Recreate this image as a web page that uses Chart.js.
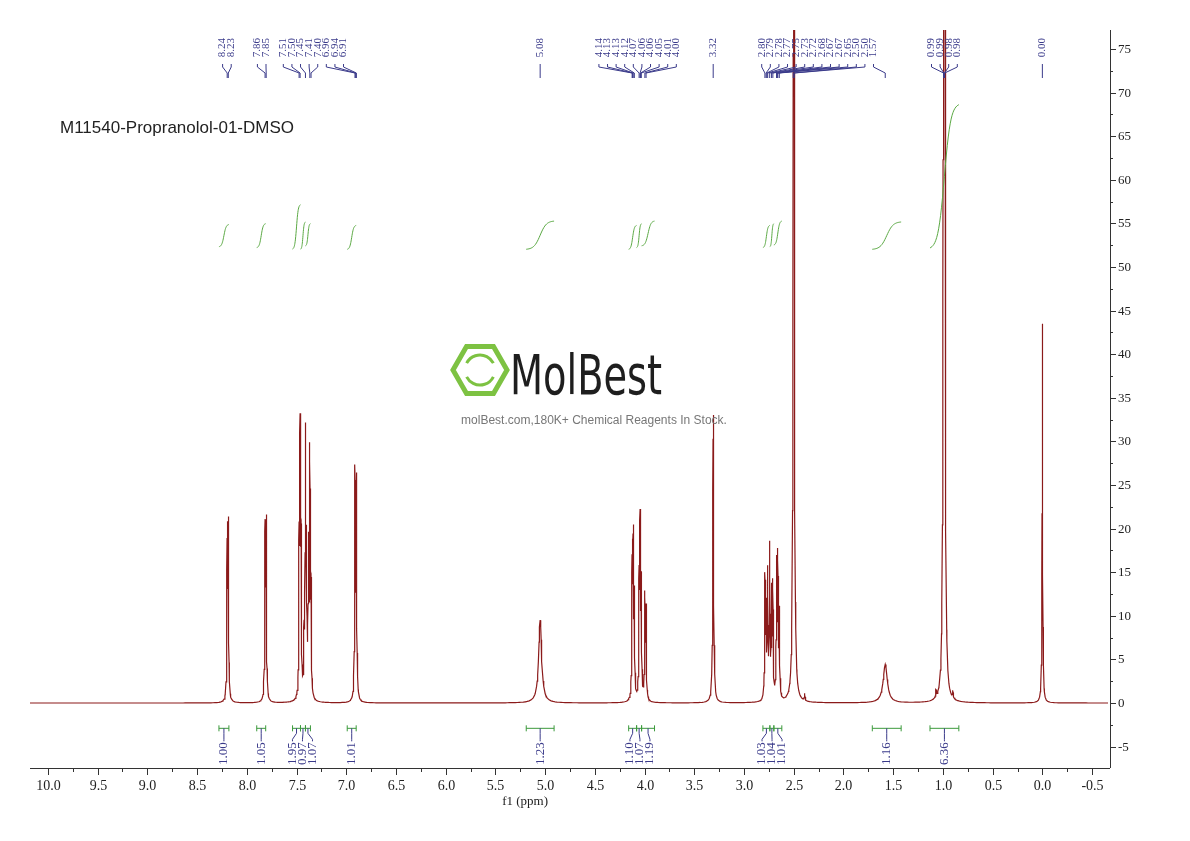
<!DOCTYPE html>
<html><head><meta charset="utf-8">
<script src="https://cdn.jsdelivr.net/npm/chart.js@4/dist/chart.umd.min.js"></script>
<style>html,body{margin:0;padding:0;background:#fff}#w{width:1190px;height:841px}</style>
</head><body><div id="w"><canvas id="c"></canvas></div>
<script>
// ---- data ----
const title = "M11540-Propranolol-01-DMSO";
const xTickLabels = ["10.0","9.5","9.0","8.5","8.0","7.5","7.0","6.5","6.0","5.5","5.0","4.5","4.0","3.5","3.0","2.5","2.0","1.5","1.0","0.5","0.0","-0.5"];
const yTickLabels = ["-5","0","5","10","15","20","25","30","35","40","45","50","55","60","65","70","75"];
// spectrum peaks: position (ppm, as drawn), height, half-width (ppm)
const peakPpm    = [8.197,8.186, 7.816,7.805, 7.474,7.464,7.454,7.424,7.410,7.399,7.380,7.366,7.354, 6.912,6.898, 5.05, 4.125,4.115,4.103,4.055,4.045,4.033,3.997,3.985, 3.31, 2.790,2.778,2.762,2.742,2.723,2.710,2.673,2.660,2.645, 2.50, 2.39, 1.58, 1.07,0.993,0.982,0.90, 0.00];
const peakHeight = [18.6,19.2, 18.8,19.4, 16.0,28.5,15.5,6.0,29.0,15.5,16.0,27.0,11.0, 25.5,24.5, 9.5, 16.0,17.0,11.0,12.5,19.0,12.5,11.5,10.0, 33.0, 13.5,9.5,14.0,17.0,11.5,12.5,15.0,15.5,9.5, 220, 0.8, 4.4, 0.8,160,150,0.8, 43.5];
const peakWidth  = [0.004,0.004, 0.004,0.004, 0.004,0.004,0.004,0.004,0.004,0.004,0.004,0.004,0.004, 0.004,0.004, 0.018, 0.004,0.004,0.004,0.004,0.004,0.004,0.004,0.004, 0.005, 0.004,0.004,0.004,0.004,0.004,0.004,0.004,0.004,0.004, 0.004, 0.004, 0.025, 0.004,0.004,0.004,0.004, 0.0035];
// peak labels on top (groups)
const topLabels = [["8.24","8.23"],["7.86","7.85"],["7.51","7.50","7.45","7.41","7.40","6.96","6.94","6.91"],["5.08"],
 ["4.14","4.13","4.13","4.12","4.07","4.06","4.06","4.05","4.01","4.00"],["3.32"],
 ["2.80","2.79","2.78","2.77","2.75","2.73","2.72","2.68","2.67","2.67","2.65","2.50","2.50","1.57"],
 ["0.99","0.99","0.98","0.98"],["0.00"]];
const topLabelCenter = [8.20,7.85,7.33,5.05,4.07,3.31,2.26,0.985,0.0];
const topLabelTarget = [[8.197,8.186],[7.816,7.805],[7.474,7.464,7.410,7.366,7.354,6.912,6.905,6.898],[5.05],
 [4.125,4.12,4.115,4.103,4.055,4.045,4.04,4.033,3.997,3.985],[3.31],
 [2.790,2.778,2.770,2.762,2.742,2.723,2.710,2.673,2.665,2.660,2.645,2.505,2.495,1.58],[0.993,0.99,0.985,0.982],[0.0]];
// integrals: start ppm, end ppm, value
const intFrom  = [8.28,7.90,7.54,7.46,7.41,6.99,5.19,4.16,4.08,4.03,2.81,2.74,2.70,1.71,1.13];
const intTo    = [8.18,7.81,7.46,7.41,7.36,6.90,4.91,4.08,4.03,3.90,2.74,2.70,2.62,1.42,0.84];
const intValue = ["1.00","1.05","1.95","0.97","1.07","1.01","1.23","1.10","1.07","1.19","1.03","1.04","1.01","1.16","6.36"];
const intCurveLow  = [52.3,52.2,52.0,52.0,52.4,52.0,52.0,52.0,52.2,52.4,52.2,52.3,52.5,52.0,52.0];
const intCurveHigh = [54.9,55.0,57.2,55.2,55.0,54.8,55.3,54.8,55.0,55.3,54.8,55.0,55.3,55.2,68.8];

// ---- build spectrum points ----
const xs = new Set([10.2,-0.7]);
peakPpm.forEach((p,i)=>{[-60,-30,-15,-8,-5,-3,-2,-1.4,-1,-0.6,-0.3,0,0.3,0.6,1,1.4,2,3,5,8,15,30,60].forEach(k=>xs.add(+(p+k*peakWidth[i]).toFixed(5)));});
for(let v=10.2; v>-0.7; v-=0.02) xs.add(+v.toFixed(3));
const spec = [...xs].sort((a,b)=>b-a).map(x=>{let y=0;peakPpm.forEach((p,i)=>{const d=(x-p)/peakWidth[i];y+=peakHeight[i]/(1+d*d);});return {x,y};});

const PLOT={l:30,r:1108,t:30,b:768};
function spread(ideal, gap){
  let cl = ideal.map(v=>({items:[v],c:v}));
  let changed=true;
  while(changed){changed=false;
    for(let i=0;i<cl.length-1;i++){const a=cl[i],b=cl[i+1];
      const aEnd=a.c+(a.items.length-1)*gap/2, bStart=b.c-(b.items.length-1)*gap/2;
      if(bStart-aEnd<gap){const items=a.items.concat(b.items);const c=items.reduce((s,v)=>s+v,0)/items.length;cl.splice(i,2,{items,c});changed=true;break;}}}
  const out=[];cl.forEach(k=>{const n=k.items.length;k.items.forEach((_,j)=>out.push(k.c+(j-(n-1)/2)*gap));});return out;
}
const deco={id:'deco',afterDraw(ch){
  const c=ch.ctx,X=ch.scales.x,Y=ch.scales.y;const px=v=>X.getPixelForValue(v),py=v=>Y.getPixelForValue(v);
  c.save();
  c.strokeStyle='#333';c.lineWidth=1;c.beginPath();c.moveTo(PLOT.l,PLOT.b+0.5);c.lineTo(PLOT.r+2,PLOT.b+0.5);c.moveTo(PLOT.r+2.5,PLOT.t);c.lineTo(PLOT.r+2.5,PLOT.b);c.stroke();
  c.fillStyle='#222';c.font='14px "Liberation Serif"';c.textAlign='center';c.textBaseline='top';
  xTickLabels.forEach(t=>{const v=parseFloat(t),x=Math.round(px(v))+0.5;c.beginPath();c.moveTo(x,PLOT.b);c.lineTo(x,PLOT.b+7);c.stroke();c.fillText(t,x,PLOT.b+11);
    const m=Math.round(px(v-0.25))+0.5; if(m<PLOT.r){c.beginPath();c.moveTo(m,PLOT.b);c.lineTo(m,PLOT.b+4);c.stroke();}
    const m2=Math.round(px(v+0.25))+0.5; if(m2>PLOT.l&&v===10){c.beginPath();c.moveTo(m2,PLOT.b);c.lineTo(m2,PLOT.b+4);c.stroke();}});
  c.font='13px "Liberation Serif"';c.fillText('f1 (ppm)',px(5.0)-20,PLOT.b+27);
  c.textAlign='left';c.textBaseline='middle';
  yTickLabels.forEach(t=>{const v=+t,y=Math.round(py(v))+0.5;c.beginPath();c.moveTo(PLOT.r+2,y);c.lineTo(PLOT.r+8,y);c.stroke();c.fillText(t,PLOT.r+10,y);
    const m=Math.round(py(v+2.5))+0.5;if(m>PLOT.t){c.beginPath();c.moveTo(PLOT.r+2,m);c.lineTo(PLOT.r+5,m);c.stroke();}});
  c.font='17px "Liberation Sans"';c.fillStyle='#222';c.fillText(title,60,128);
  // watermark
  c.save();c.translate(480,370);c.strokeStyle='#7dc242';c.lineWidth=5;c.beginPath();
  for(let k=0;k<6;k++){const a=Math.PI/3*k;const x=27*Math.cos(a),y=27*Math.sin(a);k?c.lineTo(x,y):c.moveTo(x,y);}c.closePath();c.stroke();
  c.lineWidth=3;c.beginPath();c.arc(0,0,15,Math.PI*1.15,Math.PI*1.85);c.stroke();c.beginPath();c.arc(0,0,15,Math.PI*0.15,Math.PI*0.85);c.stroke();c.restore();
  c.save();c.fillStyle='#1e1e1e';c.font='56px "DejaVu Sans Condensed"';c.textBaseline='alphabetic';const tw=c.measureText('MolBest').width;c.translate(510,394);c.scale(152/tw,1.0);c.fillText('MolBest',0,0);c.restore();
  c.fillStyle='#777';c.font='12px "Liberation Sans"';c.textAlign='center';c.fillText('molBest.com,180K+ Chemical Reagents In Stock.',594,421);
  // integral curves
  c.strokeStyle='#5aa843';c.lineWidth=1;
  intFrom.forEach((a,i)=>{const b=intTo[i];c.beginPath();for(let s=0;s<=30;s++){const f=s/30;const v=a+(b-a)*f;const g=1/(1+Math.exp(-(f-0.5)*9));const y=py(intCurveLow[i]+(intCurveHigh[i]-intCurveLow[i])*g);s?c.lineTo(px(v),y):c.moveTo(px(v),y);}c.stroke();});
  // integral brackets
  const yb=py(-2.9);const mids=intFrom.map((a,i)=>px((a+intTo[i])/2));const lx=spread(mids,10);
  c.strokeStyle='#3c9a3c';
  intFrom.forEach((a,i)=>{const x1=px(a),x2=px(intTo[i]);c.beginPath();c.moveTo(x1,yb);c.lineTo(x2,yb);c.moveTo(x1,yb-3);c.lineTo(x1,yb+3);c.moveTo(x2,yb-3);c.lineTo(x2,yb+3);c.stroke();});
  c.strokeStyle='#3a3a8a';c.fillStyle='#3a3a8a';c.font='13px "Liberation Serif"';
  intValue.forEach((t,i)=>{c.beginPath();c.moveTo(mids[i],yb);c.lineTo(mids[i],yb+5);c.lineTo(lx[i],yb+11);c.lineTo(lx[i],yb+13);c.stroke();
    c.save();c.translate(lx[i],yb+14);c.rotate(-Math.PI/2);c.textAlign='right';c.textBaseline='middle';c.fillText(t,0,0);c.restore();});
  // top labels
  const ideal=[],peaks=[],txt=[];
  topLabels.forEach((g,gi)=>{const n=g.length;g.forEach((t,j)=>{ideal.push(px(topLabelCenter[gi])+(j-(n-1)/2)*8.6);peaks.push(px(topLabelTarget[gi][j]));txt.push(t);});});
  const tx=spread(ideal,8.6);
  c.font='11px "Liberation Serif"';c.lineWidth=1;
  txt.forEach((t,i)=>{c.save();c.translate(tx[i],38);c.rotate(-Math.PI/2);c.textAlign='right';c.textBaseline='middle';c.fillText(t,0,0);c.restore();
    c.beginPath();c.moveTo(tx[i],64);c.lineTo(tx[i],67);c.lineTo(peaks[i],73);c.lineTo(peaks[i],78);c.stroke();});
  c.restore();
}};
new Chart(document.getElementById('c'),{type:'line',
  data:{datasets:[{data:spec,borderColor:'#8b1a1a',borderWidth:1.2,pointRadius:0,tension:0}]},
  options:{responsive:true,maintainAspectRatio:false,animation:false,
    layout:{padding:{left:PLOT.l,right:1190-PLOT.r,top:PLOT.t,bottom:841-PLOT.b}},
    plugins:{legend:{display:false},tooltip:{enabled:false}},
    scales:{x:{type:'linear',reverse:true,min:-0.66,max:10.18,display:false},
            y:{min:-7.45,max:77.18,display:false}}},
  plugins:[deco]});
</script></body></html>
